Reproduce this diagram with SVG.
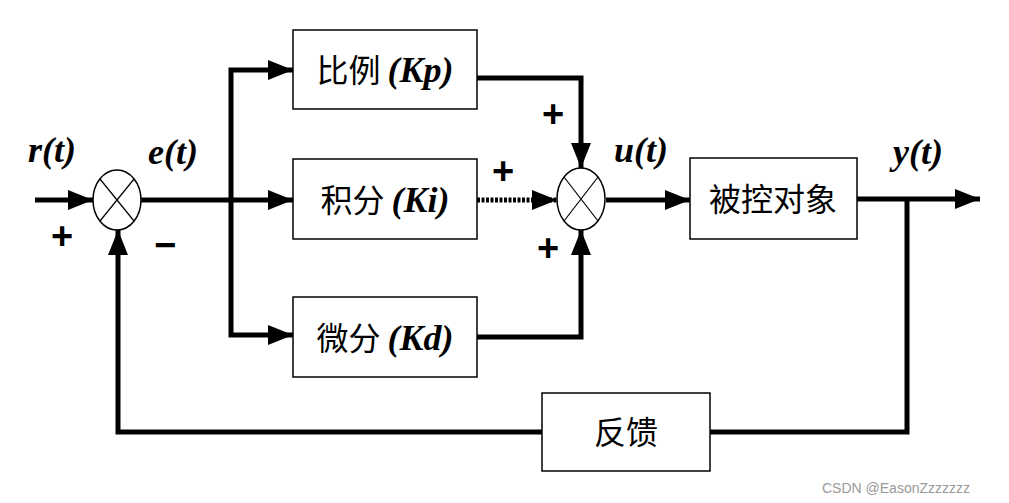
<svg xmlns="http://www.w3.org/2000/svg" width="1009" height="503" viewBox="0 0 1009 503">
<style>
.box{fill:#fff;stroke:#000;stroke-width:1.5}
.j{fill:#fff;stroke:#000;stroke-width:1.5}
.w{fill:none;stroke:#000;stroke-width:5}
.lbl{font-family:"Liberation Serif",serif;font-weight:bold;font-style:italic;font-size:36px}
.cn{font-family:"Noto Sans CJK SC",sans-serif;font-size:32px}
.sg{font-family:"Liberation Sans",sans-serif;font-weight:bold;font-size:38px}
</style>
<defs><marker id="a" markerWidth="5" markerHeight="4" refX="5" refY="2" orient="auto"><path d="M0,0L5,2L0,4z"/></marker></defs>
<rect width="1009" height="503" fill="#fff"/>
<g id="connectors">
<path class="w" d="M35,200H93" marker-end="url(#a)"/>
<path class="w" d="M141,200H293" marker-end="url(#a)"/>
<path class="w" d="M231,200V70H293" marker-end="url(#a)"/>
<path class="w" d="M231,200V335H293" marker-end="url(#a)"/>
<path class="w" d="M477,78H581V168" marker-end="url(#a)"/>
<path class="w" d="M477,337H581V230" marker-end="url(#a)"/>
<path class="w" d="M477,200H557" stroke-dasharray="3,1.5" marker-end="url(#a)"/>
<path class="w" d="M606,200H690" marker-end="url(#a)"/>
<path class="w" d="M857,199H980" marker-end="url(#a)"/>
<path class="w" d="M907,199V432H710"/>
<path class="w" d="M542,432H118V230" marker-end="url(#a)"/>
</g>
<g id="sum1"><ellipse class="j" cx="117" cy="200" rx="24" ry="30"/><path d="M100,179L134,221M134,179L100,221" stroke="#000" stroke-width="1.2"/></g>
<g id="sum2"><ellipse class="j" cx="581" cy="199" rx="24" ry="31"/><path d="M564,177L598,221M598,177L564,221" stroke="#000" stroke-width="1.2"/></g>
<g id="p"><rect class="box" x="293" y="30" width="184" height="79"/><text x="385" y="82" text-anchor="middle"><tspan class="cn">比例 </tspan><tspan class="lbl">(Kp)</tspan></text></g>
<g id="i"><rect class="box" x="293" y="159" width="184" height="80"/><text x="385" y="212" text-anchor="middle"><tspan class="cn">积分 </tspan><tspan class="lbl">(Ki)</tspan></text></g>
<g id="d"><rect class="box" x="293" y="297" width="184" height="80"/><text x="385" y="350" text-anchor="middle"><tspan class="cn">微分 </tspan><tspan class="lbl">(Kd)</tspan></text></g>
<g id="plant"><rect class="box" x="690" y="158" width="167" height="81"/><text class="cn" x="773" y="211" text-anchor="middle">被控对象</text></g>
<g id="fb"><rect class="box" x="542" y="393" width="168" height="78"/><text class="cn" x="626" y="444" text-anchor="middle">反馈</text></g>
<text class="lbl" x="28" y="162">r(t)</text>
<text class="lbl" x="148" y="164">e(t)</text>
<text class="lbl" x="614" y="162">u(t)</text>
<text class="lbl" x="893" y="164">y(t)</text>
<text class="sg" x="51" y="249">+</text>
<text class="sg" x="154" y="258">−</text>
<text class="sg" x="542" y="127">+</text>
<text class="sg" x="492" y="184">+</text>
<text class="sg" x="537" y="261">+</text>
<text x="822" y="493" font-family="Liberation Sans,sans-serif" font-size="14" fill="#999">CSDN @EasonZzzzzzz</text>
</svg>
